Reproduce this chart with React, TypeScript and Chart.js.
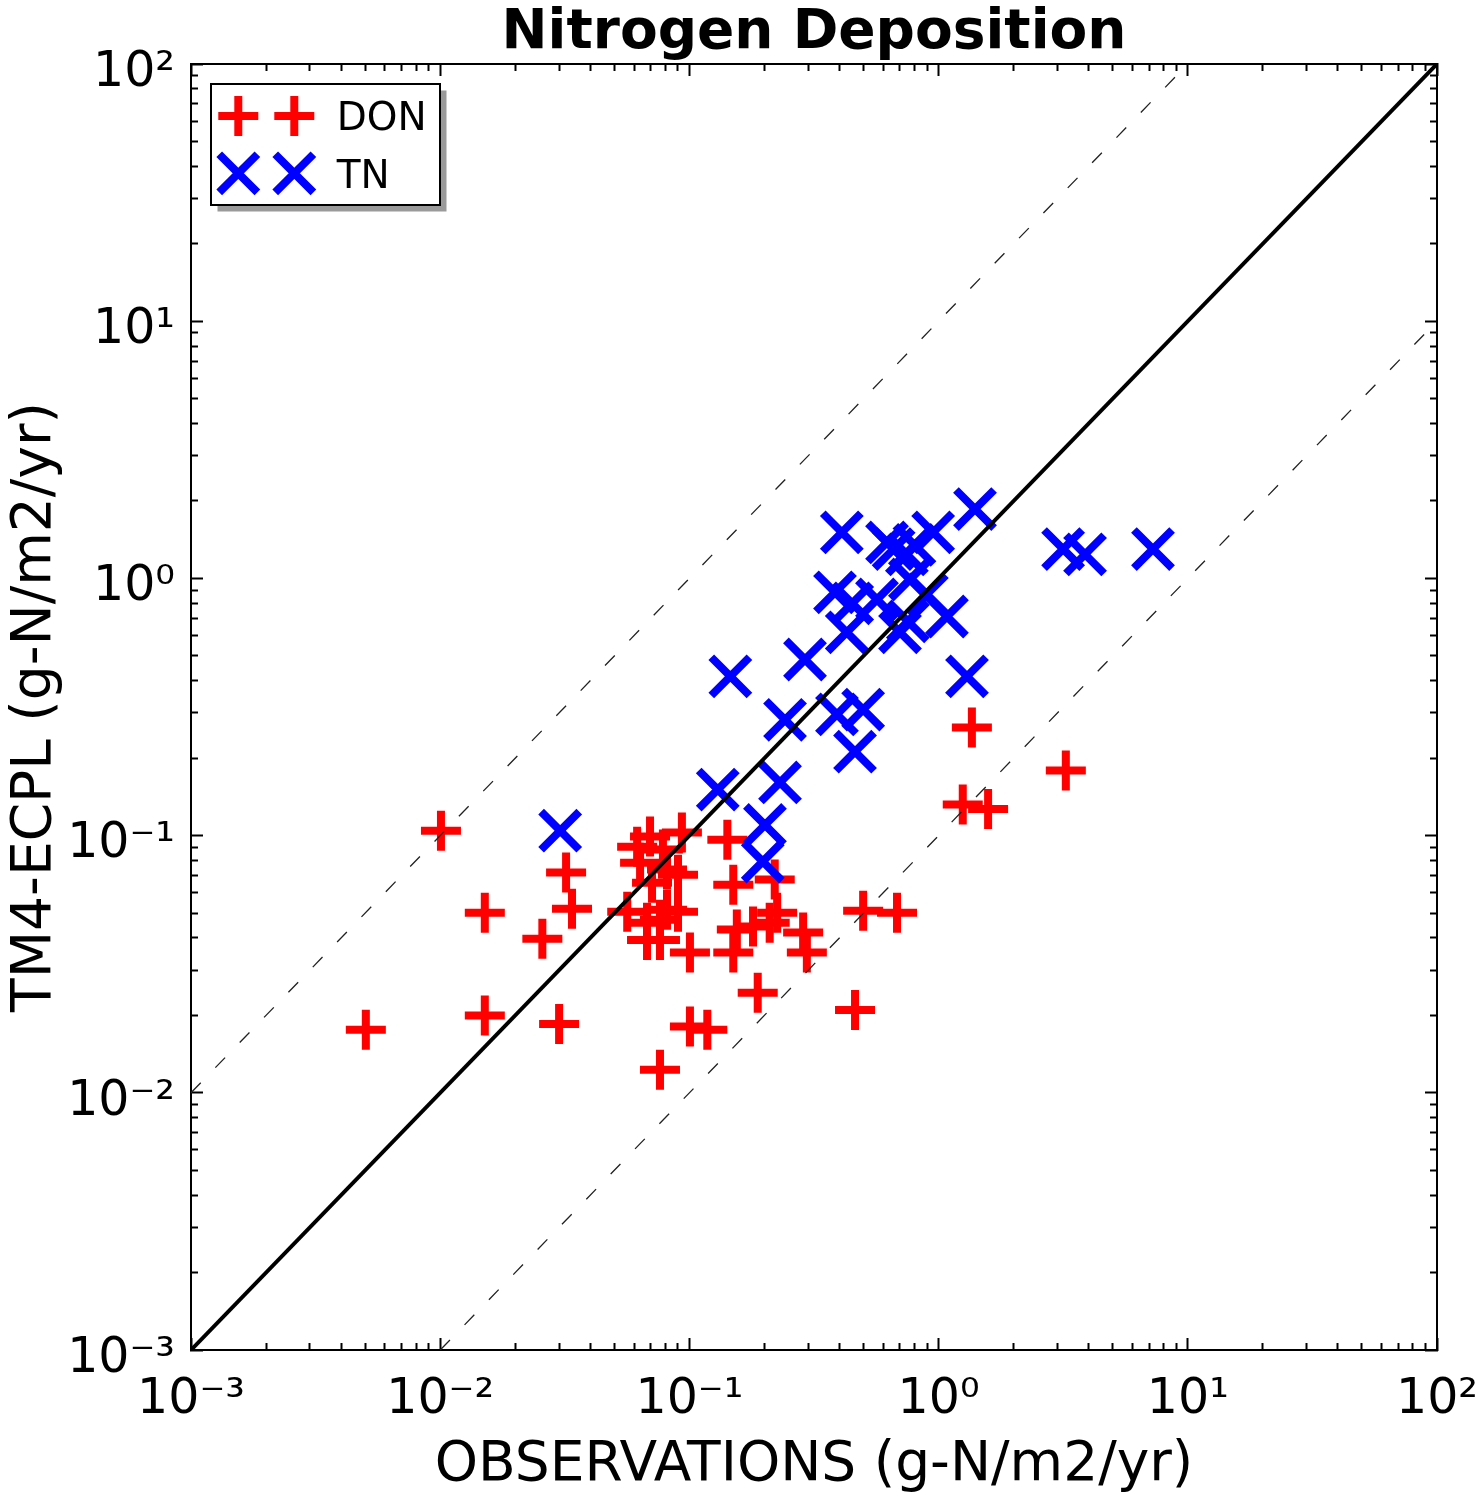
import React, { useEffect, useRef } from 'react';
import { Chart, registerables } from 'chart.js';

Chart.register(...registerables);

// ---- text ----
const chartTitle = 'Nitrogen Deposition';
const xAxisTitle = 'OBSERVATIONS (g-N/m2/yr)';
const yAxisTitle = 'TM4-ECPL (g-N/m2/yr)';
const seriesNames = ['DON', 'TN'];

// ---- ticks ----
const tickExponents = [-3, -2, -1, 0, 1, 2];
const minorMultipliers = [2, 3, 4, 5, 6, 7, 8, 9];

// ---- DON (red +) ----
const donObs = [
  0.01007, 0.032, 0.0338, 0.0151, 0.0257, 0.00503, 0.0151, 0.03,
  0.0695, 0.0933, 0.0617, 0.0783, 0.0634, 0.0813, 0.09, 0.0708,
  0.142, 0.15, 0.22, 0.0563, 0.0676, 0.0762, 0.0813, 0.09,
  0.0676, 0.0762, 0.1005, 0.155, 0.18, 0.15, 0.21, 0.225,
  0.286, 0.296, 0.188, 0.1005, 0.118, 0.0762, 1.36, 3.24,
  1.25, 1.58, 0.498, 0.681, 0.462,
];
const donModel = [
  0.1045, 0.0718, 0.052, 0.0501, 0.0397, 0.0176, 0.02, 0.0185,
  0.0991, 0.1028, 0.0906, 0.0883, 0.0785, 0.0738, 0.0705, 0.0656,
  0.0963, 0.0644, 0.0675, 0.0506, 0.0458, 0.0471, 0.0515, 0.0506,
  0.0393, 0.0393, 0.0351, 0.0431, 0.0443, 0.0351, 0.0458, 0.0501,
  0.042, 0.0351, 0.0245, 0.0181, 0.0176, 0.0123, 0.263, 0.179,
  0.132, 0.127, 0.051, 0.0501, 0.021,
];

// ---- TN (blue x) ----
const tnObs = [
  0.0303, 0.146, 0.13, 0.291, 0.242, 0.391, 0.498, 0.462,
  0.231, 0.201, 0.197, 0.409, 0.621, 0.746, 0.951, 1.4,
  0.384, 0.566, 0.767, 0.897, 1.08, 0.428, 0.7, 0.753,
  1.3, 3.16, 3.87, 7.25, 0.66, 0.8, 0.45,
];
const tnModel = [
  0.1045, 0.416, 0.151, 0.484, 0.282, 0.296, 0.309, 0.212,
  0.161, 0.11, 0.0793, 1.51, 1.38, 1.24, 1.51, 1.86,
  0.883, 0.828, 0.99, 0.867, 0.711, 0.617, 0.617, 0.681,
  0.416, 1.3, 1.24, 1.3, 1.3, 1.35, 0.8,
];

// ---- reference lines ----
const oneToOneX = [1e-3, 1e2];
const oneToOneY = [1e-3, 1e2];
const upperX = [1e-3, 1e1];
const upperY = [1e-2, 1e2];
const lowerX = [1e-2, 1e2];
const lowerY = [1e-3, 1e1];

const FONT = "'DejaVu Sans', 'Liberation Sans', sans-serif";
const SUP: Record<string, string> = {
  '-': '\u207B', '0': '\u2070', '1': '\u00B9', '2': '\u00B2', '3': '\u00B3',
  '4': '\u2074', '5': '\u2075', '6': '\u2076', '7': '\u2077', '8': '\u2078', '9': '\u2079',
};

const majorTicks = tickExponents.map((e) => Math.pow(10, e));
const minorTicks = tickExponents
  .slice(0, -1)
  .flatMap((e) => minorMultipliers.map((m) => m * Math.pow(10, e)));

function powLabel(v: number): string {
  const e = Math.round(Math.log10(v));
  return '10' + String(e).split('').map((c) => SUP[c] || c).join('');
}

function zip(xs: number[], ys: number[]) {
  return xs.map((x, i) => ({ x, y: ys[i] }));
}

function makeScale(axis: 'x' | 'y', position: string, major: boolean, labels: boolean): any {
  const isX = axis === 'x';
  const s: any = {
    type: 'logarithmic',
    axis,
    position,
    min: 1e-3,
    max: 1e2,
    weight: major ? 10 : 0,
    afterBuildTicks: (sc: any) => {
      sc.ticks = (major ? majorTicks : minorTicks).map((v) => ({ value: v, major }));
    },
    afterFit: (sc: any) => {
      if (isX) sc.height = labels ? 150 : 0;
      else sc.width = labels ? 191 : 0;
      sc.paddingLeft = 0;
      sc.paddingRight = 0;
      sc.paddingTop = 0;
      sc.paddingBottom = 0;
    },
    grid: {
      display: true,
      drawOnChartArea: false,
      drawTicks: true,
      tickLength: major ? -12 : -7,
      tickWidth: 2,
      tickColor: '#000',
    },
    border: { display: major, color: '#000', width: 2 },
    ticks: {
      display: labels,
      autoSkip: false,
      maxRotation: 0,
      minRotation: 0,
      color: '#000',
      font: { family: FONT, size: 49 },
      padding: isX ? 33 : 28,
      labelOffset: isX ? 0 : 9,
      callback: (v: any) => powLabel(Number(v)),
    },
  };
  if (labels) {
    s.title = {
      display: true,
      text: isX ? xAxisTitle : yAxisTitle,
      color: '#000',
      font: { family: FONT, size: 55 },
      padding: isX ? { top: 0, bottom: 1.5 } : { top: 3, bottom: 0 },
    };
  }
  return s;
}

function drawMarker(ctx: CanvasRenderingContext2D, style: string, x: number, y: number, r: number) {
  ctx.beginPath();
  if (style === 'crossRot') {
    const d = Math.cos(Math.PI / 4) * r;
    ctx.moveTo(x - d, y - d);
    ctx.lineTo(x + d, y + d);
    ctx.moveTo(x + d, y - d);
    ctx.lineTo(x - d, y + d);
  } else {
    ctx.moveTo(x - r, y);
    ctx.lineTo(x + r, y);
    ctx.moveTo(x, y - r);
    ctx.lineTo(x, y + r);
  }
  ctx.stroke();
}

const boxLegend = {
  id: 'boxLegend',
  afterDraw(chart: any) {
    const { ctx, chartArea } = chart;
    const x0 = chartArea.left + 20;
    const y0 = chartArea.top + 20;
    const w = 229;
    const h = 121;
    ctx.save();
    ctx.fillStyle = '#9a9a9a';
    ctx.fillRect(x0 + 6.5, y0 + 6.5, w, h);
    ctx.fillStyle = '#ffffff';
    ctx.fillRect(x0, y0, w, h);
    ctx.lineWidth = 2;
    ctx.strokeStyle = '#000';
    ctx.strokeRect(x0, y0, w, h);
    seriesNames.forEach((name: string, i: number) => {
      const ds = chart.data.datasets.find((d: any) => d.label === name);
      if (!ds) return;
      const cy = y0 + 32 + i * 57.3;
      ctx.strokeStyle = ds.borderColor;
      ctx.lineWidth = ds.borderWidth;
      ctx.lineCap = 'butt';
      drawMarker(ctx, ds.pointStyle, x0 + 27.3, cy, ds.pointRadius);
      drawMarker(ctx, ds.pointStyle, x0 + 83.3, cy, ds.pointRadius);
      ctx.fillStyle = '#000';
      ctx.font = `39px ${FONT}`;
      ctx.textBaseline = 'alphabetic';
      ctx.textAlign = 'left';
      ctx.fillText(ds.label, x0 + 125.7, y0 + 46 + i * 58.3);
    });
    ctx.restore();
  },
};

export default function App() {
  const canvasRef = useRef<HTMLCanvasElement | null>(null);

  useEffect(() => {
    const canvas = canvasRef.current;
    if (!canvas) return;
    const chart = new Chart(canvas, {
      type: 'scatter',
      data: {
        datasets: [
          {
            label: 'one-to-one',
            data: zip(oneToOneX, oneToOneY),
            showLine: true,
            borderColor: '#000',
            borderWidth: 4,
            pointRadius: 0,
            order: 0,
          } as any,
          {
            label: 'upper',
            data: zip(upperX, upperY),
            showLine: true,
            borderColor: '#222',
            borderWidth: 1.3,
            borderDash: [14, 21],
            pointRadius: 0,
            order: 0,
          },
          {
            label: 'lower',
            data: zip(lowerX, lowerY),
            showLine: true,
            borderColor: '#222',
            borderWidth: 1.3,
            borderDash: [14, 21],
            pointRadius: 0,
            order: 0,
          },
          {
            label: seriesNames[1],
            data: zip(tnObs, tnModel),
            pointStyle: 'crossRot',
            pointRadius: 27,
            borderWidth: 8,
            borderColor: '#0000ff',
            backgroundColor: '#0000ff',
            order: 1,
          },
          {
            label: seriesNames[0],
            data: zip(donObs, donModel),
            pointStyle: 'cross',
            pointRadius: 20,
            borderWidth: 8,
            borderColor: '#ff0000',
            backgroundColor: '#ff0000',
            order: 2,
          },
        ],
      },
      options: {
        responsive: false,
        animation: false,
        devicePixelRatio: 1,
        events: [],
        layout: { padding: { left: 0, right: 45, top: 0, bottom: 0 } },
        plugins: {
          legend: { display: false },
          tooltip: { enabled: false },
          title: {
            display: true,
            text: chartTitle,
            color: '#000',
            fullSize: false,
            font: { family: FONT, size: 55, weight: 'bold', lineHeight: 1.0 },
            padding: { top: 6.2, bottom: 2.8 },
          },
        },
        scales: {
          x: makeScale('x', 'bottom', true, true),
          xMinor: makeScale('x', 'bottom', false, false),
          xTop: makeScale('x', 'top', true, false),
          xTopMinor: makeScale('x', 'top', false, false),
          y: makeScale('y', 'left', true, true),
          yMinor: makeScale('y', 'left', false, false),
          yRight: makeScale('y', 'right', true, false),
          yRightMinor: makeScale('y', 'right', false, false),
        },
      } as any,
      plugins: [boxLegend],
    });
    return () => chart.destroy();
  }, []);

  return (
    <div style={{ position: 'absolute', left: 0, top: 0, width: 1482, height: 1500, background: '#fff' }}>
      <canvas ref={canvasRef} width={1482} height={1500} style={{ display: 'block' }} />
    </div>
  );
}
